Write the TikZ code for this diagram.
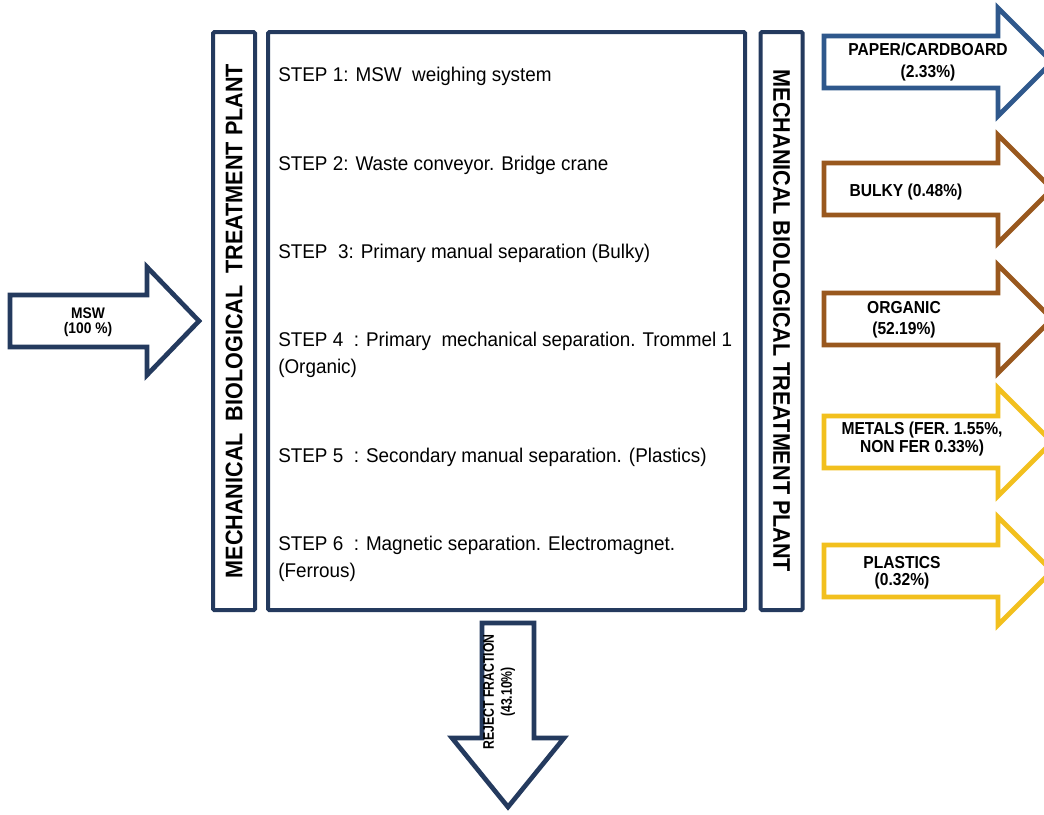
\documentclass[tikz,border=0pt]{standalone}
\usepackage{fontspec}
\setmainfont{Liberation Sans}
\newfontfamily\narrowfont{Liberation Sans}[FakeStretch=0.9]
\newfontfamily\stepfont{Liberation Sans}[FakeStretch=0.95]
\newfontfamily\condfont{Liberation Sans}[FakeStretch=0.8]

\definecolor{boxblue}{RGB}{36,58,94}
\definecolor{paperblue}{RGB}{47,88,140}
\definecolor{bulkbrown}{RGB}{153,88,30}
\definecolor{metalgold}{RGB}{242,192,30}

\tikzstyle{frame} = [draw=boxblue, line width=3pt, rounded corners=1pt, inner sep=0pt]
\tikzstyle{sidebox} = [frame, minimum width=433.5pt, minimum height=31.5pt, font=\narrowfont\bfseries\fontsize{18}{20}\selectfont]
\tikzstyle{stepbox} = [frame, minimum width=357.75pt, minimum height=433.5pt]
\tikzstyle{steptext} = [anchor=west, align=left, inner sep=0pt, font=\stepfont\fontsize{14.9}{20.5}\selectfont]
\tikzstyle{flowtext} = [align=center, inner sep=0pt, font=\narrowfont\bfseries\fontsize{13}{16}\selectfont]
\tikzstyle{blockarrow} = [line width=3.5pt, fill=white, line join=miter]

% right pointing block arrow: colour, centre y
\newcommand{\outarrow}[2]{%
  \draw[blockarrow, draw=#1] (824,#2-26) -- (998,#2-26) -- (998,#2-54) -- (1052,#2)
    -- (998,#2+54) -- (998,#2+26) -- (824,#2+26) -- cycle;}

\begin{document}
\begin{tikzpicture}[x=0.75pt, y=-0.75pt]
  \useasboundingbox[fill=white] (0,0) rectangle (1044,814);

  % plant boxes
  \node [sidebox, rotate=90] at (234,321) (mbtleft) {MECHANICAL\ \ BIOLOGICAL\ \ TREATMENT PLANT};
  \node [stepbox] at (506.5,321) (steps) {};
  \node [sidebox, rotate=-90] at (781.5,321) (mbtright) {MECHANICAL BIOLOGICAL TREATMENT PLANT};

  \node [steptext] at (278,76) (step1) {STEP 1: MSW\ \ weighing system};
  \node [steptext] at (278,165) (step2) {STEP 2: Waste conveyor. Bridge crane};
  \node [steptext] at (278,253) (step3) {STEP\ \ 3: Primary manual separation (Bulky)};
  \node [steptext] at (278,355) (step4) {STEP 4\ \ : Primary\ \ mechanical separation. Trommel 1\\(Organic)};
  \node [steptext] at (278,457) (step5) {STEP 5\ \ : Secondary manual separation. (Plastics)};
  \node [steptext] at (278,559) (step6) {STEP 6\ \ : Magnetic separation. Electromagnet.\\(Ferrous)};

  % input and reject
  \draw [blockarrow, draw=boxblue] (10,295) -- (147,295) -- (147,267) -- (199,321)
    -- (147,375) -- (147,347) -- (10,347) -- cycle;
  \node [flowtext, font=\narrowfont\bfseries\fontsize{11.5}{11.5}\selectfont] at (88,322) (msw) {MSW\\(100 \%)};

  \draw [blockarrow, draw=boxblue] (482,623) -- (534,623) -- (534,738) -- (564,738)
    -- (508,807) -- (452,738) -- (482,738) -- cycle;
  \node [flowtext, rotate=90, font=\condfont\bfseries\fontsize{11.5}{13.5}\selectfont] at (499,692) (reject) {REJECT FRACTION\\(43.10\%)};

  % output fractions
  \outarrow{paperblue}{62}
  \outarrow{bulkbrown}{189}
  \outarrow{bulkbrown}{319}
  \outarrow{metalgold}{442}
  \outarrow{metalgold}{571}
  \node [flowtext] at (928,62) (paper) {PAPER/CARDBOARD\\(2.33\%)};
  \node [flowtext] at (906,192) (bulky) {BULKY (0.48\%)};
  \node [flowtext] at (904,320) (organic) {ORGANIC\\(52.19\%)};
  \node [flowtext, font=\narrowfont\bfseries\fontsize{13}{13.5}\selectfont] at (922,439) (metals) {METALS (FER. 1.55\%,\\NON FER 0.33\%)};
  \node [flowtext, font=\narrowfont\bfseries\fontsize{13}{13}\selectfont] at (902,573) (plastics) {PLASTICS\\(0.32\%)};
\end{tikzpicture}
\end{document}
